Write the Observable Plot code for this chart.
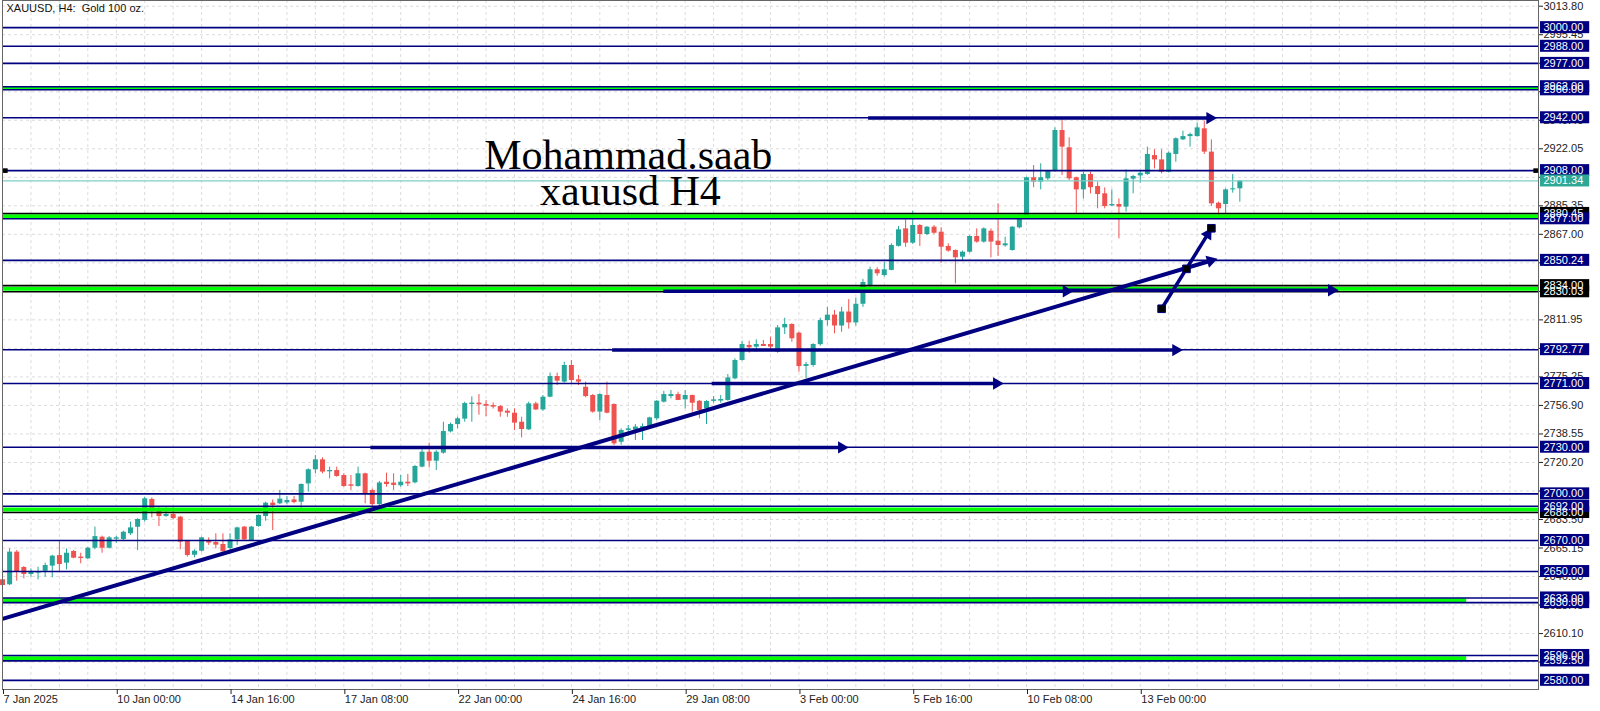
<!DOCTYPE html>
<html><head><meta charset="utf-8">
<script src="https://cdn.jsdelivr.net/npm/d3@7"></script>
<script src="https://cdn.jsdelivr.net/npm/@observablehq/plot@0.6"></script>
<style>html,body{margin:0;padding:0;background:#fff;} svg{display:block}</style>
</head><body><div id="chart"></div>
<script>
// ---- candle data (XAUUSD H4), bar index 0..174 ----
const OPEN = [2644.7,2641.5,2662.5,2652.6,2648.1,2649.0,2650.2,2653.5,2660.3,2655.4,2662.9,2659.3,2658.2,2665.0,2672.1,2665.0,2670.8,2670.6,2674.3,2678.5,
2682.9,2696.4,2690.4,2685.4,2686.7,2685.0,2669.5,2660.5,2663.1,2670.0,2668.7,2667.4,2664.8,2670.4,2678.6,2670.0,2679.0,2685.4,2694.0,2693.6,
2694.2,2696.1,2694.6,2706.4,2715.5,2721.9,2714.2,2715.0,2711.8,2705.8,2704.7,2712.9,2702.2,2693.1,2707.5,2706.9,2705.2,2707.5,2707.1,2717.2,
2726.8,2721.0,2726.2,2739.9,2744.6,2748.1,2757.5,2758.4,2757.5,2756.8,2756.2,2753.2,2751.9,2746.1,2741.2,2757.9,2754.0,2762.2,2775.5,2771.9,
2782.6,2773.4,2768.6,2763.3,2752.6,2763.3,2757.5,2733.2,2740.8,2741.0,2740.8,2743.3,2748.3,2759.0,2762.6,2763.9,2760.5,2763.3,2759.6,2754.7,
2759.5,2759.7,2760.1,2774.0,2785.8,2795.5,2794.4,2796.1,2796.1,2791.2,2806.8,2809.0,2803.4,2782.0,2782.6,2796.0,2811.5,2815.0,2808.0,2817.0,
2810.0,2822.0,2834.1,2844.2,2840.5,2843.8,2859.3,2870.5,2861.3,2872.7,2866.9,2871.6,2868.4,2859.2,2856.6,2852.3,2855.5,2865.6,2862.0,2869.0,
2862.6,2859.6,2856.6,2871.2,2879.1,2903.4,2900.6,2902.7,2907.6,2933.8,2922.7,2903.4,2895.6,2905.5,2897.8,2893.1,2885.3,2886.2,2884.5,2902.5,
2904.6,2905.5,2917.7,2914.9,2907.0,2918.4,2927.8,2929.9,2929.9,2934.9,2919.9,2887.0,2886.2,2895.6,2896.3];
const HIGH = [2646.0,2664.6,2663.5,2653.2,2651.7,2652.8,2655.4,2660.5,2670.0,2664.6,2663.5,2661.8,2665.5,2678.6,2672.8,2672.5,2672.6,2676.0,2681.8,2684.0,
2697.9,2697.4,2691.9,2691.4,2691.9,2685.5,2670.0,2664.0,2672.1,2671.7,2674.3,2674.3,2674.3,2678.6,2679.0,2679.0,2686.5,2694.6,2696.1,2702.2,
2698.3,2698.3,2706.4,2716.1,2724.7,2723.2,2717.2,2717.2,2712.9,2711.8,2717.2,2713.3,2703.0,2708.0,2713.3,2712.9,2711.8,2712.5,2718.2,2728.5,
2732.6,2727.8,2746.1,2745.5,2749.3,2759.0,2762.4,2763.9,2760.0,2758.5,2756.8,2754.7,2754.7,2749.3,2759.0,2759.0,2763.3,2777.7,2777.7,2784.7,
2785.8,2776.2,2771.9,2763.9,2764.4,2771.9,2757.9,2741.8,2744.0,2744.6,2745.0,2749.3,2760.0,2766.0,2766.5,2765.4,2766.5,2763.5,2760.0,2760.0,
2762.6,2763.3,2776.8,2786.9,2798.2,2798.2,2799.1,2798.7,2800.8,2808.3,2813.0,2809.4,2804.0,2784.7,2796.6,2813.0,2820.0,2818.0,2820.0,2825.0,
2826.0,2838.0,2845.9,2845.5,2849.1,2860.9,2872.0,2876.3,2881.9,2873.3,2872.0,2872.7,2871.2,2860.9,2857.0,2856.2,2866.2,2870.5,2871.2,2870.5,
2886.6,2865.2,2872.0,2880.2,2903.8,2911.3,2912.4,2908.0,2935.5,2941.3,2929.1,2903.8,2907.0,2907.0,2900.6,2896.9,2895.6,2889.8,2908.5,2904.9,
2908.1,2923.1,2921.4,2921.4,2919.9,2929.1,2933.4,2932.1,2938.5,2939.8,2927.8,2887.7,2896.3,2905.5,2901.7];
const LOW = [2640.0,2641.0,2643.8,2645.3,2646.4,2644.7,2646.4,2646.0,2649.6,2651.1,2658.2,2655.0,2657.8,2664.0,2661.8,2664.5,2668.3,2670.0,2673.2,2663.5,
2681.8,2684.6,2679.0,2685.0,2683.3,2664.0,2659.3,2658.8,2662.5,2666.8,2664.6,2662.5,2661.4,2666.8,2670.0,2669.5,2678.5,2682.4,2676.4,2693.1,
2693.1,2693.6,2690.4,2701.1,2712.9,2712.9,2709.7,2710.7,2704.3,2702.2,2704.3,2693.6,2692.0,2692.5,2704.3,2702.2,2704.3,2704.7,2706.4,2716.7,
2716.7,2715.0,2725.5,2739.2,2741.8,2746.1,2746.1,2750.6,2749.7,2754.6,2749.3,2749.3,2740.8,2736.0,2740.8,2753.6,2753.2,2761.8,2769.7,2771.2,
2770.4,2769.7,2761.8,2751.9,2747.2,2751.5,2731.1,2731.3,2736.9,2734.3,2734.3,2742.9,2747.2,2758.4,2761.1,2760.0,2754.7,2752.6,2748.3,2744.6,
2758.3,2758.3,2759.6,2773.4,2785.4,2790.5,2791.2,2794.8,2792.2,2790.5,2802.5,2797.6,2778.3,2774.0,2781.5,2795.0,2808.0,2803.0,2804.0,2806.0,
2808.0,2820.0,2833.0,2840.0,2839.5,2843.5,2858.8,2858.7,2860.5,2859.2,2866.2,2866.9,2848.4,2855.5,2835.1,2850.1,2854.9,2861.3,2861.3,2851.9,
2852.7,2858.7,2856.2,2870.5,2878.0,2897.0,2895.6,2901.6,2907.0,2904.8,2901.6,2880.2,2889.8,2893.0,2883.4,2883.4,2884.9,2864.1,2881.3,2893.1,
2899.9,2904.9,2909.1,2905.9,2906.4,2913.4,2927.4,2923.1,2929.5,2918.4,2884.9,2877.6,2880.2,2893.5,2887.7];
const CLOSE = [2641.0,2662.5,2650.0,2648.1,2649.6,2650.0,2653.9,2659.9,2654.5,2661.8,2658.6,2658.4,2665.0,2672.5,2665.0,2671.7,2671.7,2675.3,2678.1,2683.5,
2696.8,2689.3,2685.4,2686.7,2684.1,2668.9,2660.3,2663.1,2671.7,2668.3,2667.0,2662.7,2670.4,2678.1,2670.4,2678.6,2686.1,2694.0,2692.5,2696.6,
2695.7,2694.4,2706.0,2715.5,2721.9,2714.0,2715.0,2711.2,2704.7,2704.9,2712.9,2699.6,2693.1,2707.0,2706.0,2705.4,2707.5,2706.4,2717.6,2726.8,
2721.0,2726.8,2740.1,2744.6,2748.3,2758.1,2758.4,2757.3,2756.4,2755.8,2752.6,2751.9,2745.5,2741.4,2757.9,2754.0,2762.2,2775.5,2772.5,2782.6,
2772.9,2771.9,2762.6,2752.6,2763.9,2751.9,2732.2,2740.8,2741.8,2743.0,2743.3,2748.9,2759.6,2763.9,2763.9,2760.1,2763.3,2758.3,2753.6,2759.4,
2760.5,2760.7,2774.6,2785.8,2796.1,2794.0,2796.1,2794.8,2794.4,2806.8,2809.0,2799.8,2781.9,2783.2,2796.1,2811.5,2815.0,2808.0,2817.0,2810.0,
2822.0,2836.0,2844.2,2841.6,2844.2,2859.8,2869.9,2861.3,2872.7,2866.9,2871.6,2867.7,2858.7,2856.2,2851.9,2855.5,2865.6,2862.0,2870.5,2862.0,
2859.8,2860.9,2871.6,2879.1,2903.4,2900.6,2903.4,2907.6,2933.8,2923.1,2902.7,2895.6,2905.5,2897.0,2892.6,2884.9,2886.2,2884.5,2902.7,2904.2,
2906.3,2918.4,2914.9,2907.0,2919.2,2928.5,2929.9,2931.2,2935.5,2919.9,2886.6,2883.4,2895.6,2896.3,2901.34];

// ---- axes ----
const X_TICK_BARS = [0,16,32,48,64,80,96,112,128,144,160];
const X_TICK_LABELS = ["7 Jan 2025","10 Jan 00:00","14 Jan 16:00","17 Jan 08:00","22 Jan 00:00","24 Jan 16:00","29 Jan 08:00","3 Feb 00:00","5 Feb 16:00","10 Feb 08:00","13 Feb 00:00"];
const Y_TICKS = [2591.75,2610.10,2628.45,2646.80,2665.15,2683.50,2701.85,2720.20,2738.55,2756.90,2775.25,2793.60,2811.95,2830.30,2848.65,2867.00,2885.35,2903.70,2922.05,2940.40,2958.75,2977.10,2995.45,3013.80];
// tick labels that sit completely under a price label box
const Y_TICKS_COVERED = [2591.75, 2701.85, 2793.60, 2830.30, 2903.70, 2958.75, 2977.10];

// ---- drawn horizontal levels ----
const NAVY_LEVELS = [3000, 2988, 2977, 2962, 2960, 2942, 2908, 2877, 2850.24, 2792.77, 2771, 2730, 2700, 2692, 2670, 2650, 2633, 2630, 2596, 2592.5, 2580];
const BLACK_LEVELS = [2880.45, 2834, 2830.03, 2688];
const GREEN_FULL = [2961.2, 2878.7, 2832.0, 2689.9];
const GREEN_PART = [2631.5, 2594.2];
const GREEN_PART_END = 205.9;
const BID = 2901.34;

// ---- price-scale labels (first ones sit underneath) ----
const BOX_VALUES = [2962, 2880.45, 2830.03, 2688, 2633, 2592.5,
  3000, 2988, 2977, 2960, 2942, 2908, 2901.34, 2877, 2850.24, 2834, 2792.77, 2771, 2730, 2700, 2692, 2670, 2650, 2630, 2596, 2580];
const BOX_KIND = ["navy","black","black","black","navy","navy",
  "navy","navy","navy","navy","navy","navy","bid","navy","navy","black","navy","navy","navy","navy","navy","navy","navy","navy","navy","navy"];

// ---- drawn objects (bar index, price) ----
const H_ARROWS_FROM = [121.8, 93.0, 150.0, 85.8, 99.8, 51.8];
const H_ARROWS_TO   = [169.8, 149.6, 186.9, 165.0, 139.8, 118.0];
const H_ARROWS_AT   = [2941.8, 2830.4, 2831.0, 2792.5, 2771.0, 2729.9];
const TREND = {x1: 0, y1: 2619.5, x2: 169.9, y2: 2850.0};
const STEEP = {x1: 163.0, y1: 2819.1, x2: 169.5, y2: 2867.1};
const HANDLES_X = [163.0, 166.5, 170.0];
const HANDLES_Y = [2819.1, 2844.8, 2870.9];
const LINE_HANDLES_X = [0.4, 215.6];

const NAVY = "#000080", BULL = "#26a69a", BEAR = "#ef5350", LIME = "#00ff00";

const candles = OPEN.map((o, i) => {
  const c = CLOSE[i];
  let top = Math.max(o, c), bot = Math.min(o, c);
  if (top - bot < 0.65) top = bot + 0.65;
  return {i, o, c, h: HIGH[i], l: LOW[i], top, bot, up: c >= o};
});
const hArrows = H_ARROWS_AT.map((p, k) => ({x1: H_ARROWS_FROM[k], x2: H_ARROWS_TO[k], y: p}));
const boxes = BOX_VALUES.map((v, k) => ({v, kind: BOX_KIND[k], text: v.toFixed(2)}));
const boxFill = k => k === "navy" ? NAVY : k === "black" ? "#000" : "#2ea795";
const gridX = d3.range(4, 216, 4);
const BOX_X1 = 216.28, BOX_X2 = 223.2, BOX_HALF = 3.86;

const chart = Plot.plot({
  width: 1600, height: 711,
  marginLeft: 2, marginRight: 62, marginTop: 0, marginBottom: 22,
  x: {domain: [0, 216]},
  y: {domain: [2574.1, 3017.47]},
  style: {fontFamily: "'Liberation Sans', Arial, sans-serif", fontSize: "11px", background: "#fff", color: "#222", overflow: "visible"},
  marks: [
    Plot.ruleY(Y_TICKS, {stroke: "#dcdcdc", strokeDasharray: "3,3"}),
    Plot.ruleX(gridX, {stroke: "#dcdcdc", strokeDasharray: "3,3"}),
    // candles
    Plot.ruleX(candles, {filter: d => d.up, x: "i", y1: "l", y2: "h", stroke: BULL, strokeWidth: 1}),
    Plot.ruleX(candles, {filter: d => !d.up, x: "i", y1: "l", y2: "h", stroke: BEAR, strokeWidth: 1}),
    Plot.ruleX(candles, {filter: d => d.up, x: "i", y1: "bot", y2: "top", stroke: BULL, strokeWidth: 5}),
    Plot.ruleX(candles, {filter: d => !d.up, x: "i", y1: "bot", y2: "top", stroke: BEAR, strokeWidth: 5}),
    // bid line
    Plot.ruleY([BID], {stroke: "#7fcfc6", strokeWidth: 1.2}),
    // green bands
    Plot.ruleY(GREEN_FULL, {stroke: LIME, strokeWidth: 4}),
    Plot.ruleY(GREEN_PART, {x1: 0, x2: GREEN_PART_END, stroke: LIME, strokeWidth: 4}),
    // horizontal levels
    Plot.ruleY(BLACK_LEVELS, {stroke: "#000", strokeWidth: 1.6}),
    Plot.ruleY(NAVY_LEVELS, {stroke: NAVY, strokeWidth: 1.6}),
    Plot.dot(LINE_HANDLES_X, {x: d => d, y: () => 2908, symbol: "square", r: 2.6, fill: "#000"}),
    // arrows
    Plot.ruleY(hArrows, {x1: "x1", x2: "x2", y: "y", stroke: NAVY, strokeWidth: 3.5}),
    Plot.dot(hArrows, {x: "x2", y: "y", symbol: "triangle", r: 4.6, fill: NAVY, rotate: 90}),
    Plot.link([TREND], {x1: "x1", y1: "y1", x2: "x2", y2: "y2", stroke: NAVY, strokeWidth: 4}),
    Plot.dot([TREND], {x: "x2", y: "y2", symbol: "triangle", r: 4.6, fill: NAVY, rotate: 73.5}),
    Plot.link([STEEP], {x1: "x1", y1: "y1", x2: "x2", y2: "y2", stroke: NAVY, strokeWidth: 3.5}),
    Plot.dot([STEEP], {x: "x2", y: "y2", symbol: "triangle", r: 4.6, fill: NAVY, rotate: 32}),
    Plot.dot(HANDLES_X, {x: d => d, y: (d, k) => HANDLES_Y[k], symbol: "square", r: 4.3, fill: "#000", stroke: NAVY, strokeWidth: 1}),
    // annotations
    Plot.text(["Mohammad.saab"], {x: 88.0, y: 2917.7, text: d => d, fontSize: 42, fontFamily: "'Liberation Serif', 'Times New Roman', serif", fill: "#000"}),
    Plot.text(["xauusd H4"], {x: 88.3, y: 2894.6, text: d => d, fontSize: 42, fontFamily: "'Liberation Serif', 'Times New Roman', serif", fill: "#000"}),
    Plot.text(["XAUUSD, H4:\u00a0 Gold 100 oz."], {frameAnchor: "top-left", text: d => d, dx: 4, dy: 4, fontSize: 11, fill: "#111"}),
    Plot.frame({stroke: "#666"}),
    // axes
    Plot.axisX({ticks: X_TICK_BARS, tickFormat: d => X_TICK_LABELS[X_TICK_BARS.indexOf(d)], tickSize: 5, tickPadding: 1, textAnchor: "start", dx: 1, label: null, fontSize: 11}),
    Plot.axisY({anchor: "right", ticks: Y_TICKS, tickFormat: d => Y_TICKS_COVERED.includes(d) ? "" : d.toFixed(2), tickSize: 4, tickPadding: 1, label: null, fontSize: 11}),
    // price labels
    Plot.rect(boxes, {x1: BOX_X1, x2: BOX_X2, y1: d => d.v - BOX_HALF, y2: d => d.v + BOX_HALF, fill: d => boxFill(d.kind)}),
    Plot.text(boxes, {x: BOX_X1, y: "v", text: "text", textAnchor: "start", dx: 3, fill: "#fff", fontSize: 11})
  ]
});
document.getElementById("chart").appendChild(chart);
</script></body></html>
